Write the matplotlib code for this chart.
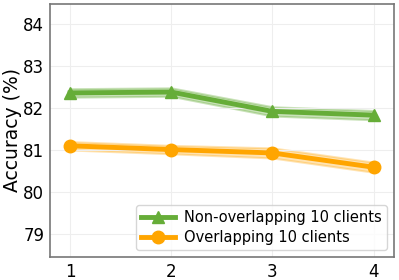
import matplotlib.pyplot as plt

# clients count steps on x, accuracy (%) on y
steps = [1, 2, 3, 4]
non_overlap = [82.36, 82.38, 81.92, 81.83]
non_overlap_err = [0.10, 0.10, 0.11, 0.11]
overlap = [81.10, 81.01, 80.93, 80.59]
overlap_err = [0.10, 0.10, 0.12, 0.12]

green = "#66ad38"
orange = "#ffa500"

fig, ax = plt.subplots(figsize=(3.99, 2.8), dpi=100)
ax.fill_between(steps, [v - e for v, e in zip(non_overlap, non_overlap_err)],
                [v + e for v, e in zip(non_overlap, non_overlap_err)],
                color=green, alpha=0.35, lw=1.5)
ax.fill_between(steps, [v - e for v, e in zip(overlap, overlap_err)],
                [v + e for v, e in zip(overlap, overlap_err)],
                color=orange, alpha=0.3, lw=1.5)
ax.plot(steps, non_overlap, color=green, lw=3.5, marker="^", ms=9,
        label="Non-overlapping 10 clients")
ax.plot(steps, overlap, color=orange, lw=3.5, marker="o", ms=9,
        label="Overlapping 10 clients")

ax.set_xlim(0.8, 4.2)
ax.set_ylim(78.45, 84.48)
ax.set_xticks(steps)
ax.set_yticks([79, 80, 81, 82, 83, 84])
ax.tick_params(labelsize=12, length=0, pad=4)
ax.set_ylabel("Accuracy (%)", fontsize=13.5, labelpad=1)
ax.grid(True, color="#eeeeee", lw=0.8)
for s in ax.spines.values():
    s.set_color("#777777")
    s.set_linewidth(1.2)
ax.legend(loc="lower right", fontsize=10.5, handlelength=2.3,
          borderpad=0.35, labelspacing=0.3, handletextpad=0.6)

fig.subplots_adjust(left=0.125, right=0.987, bottom=0.082, top=0.986)
fig.savefig("out.png", dpi=100)
